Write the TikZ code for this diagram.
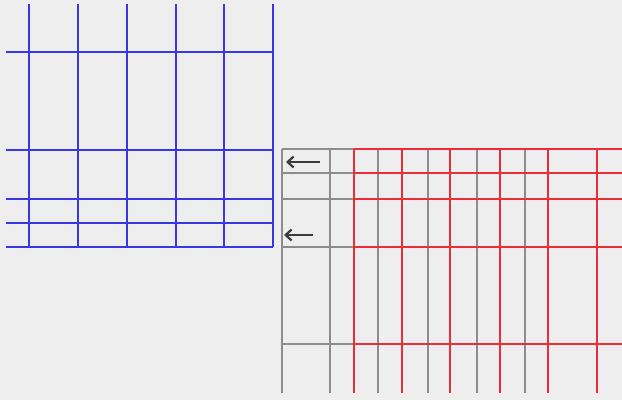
\documentclass[tikz,border=0pt]{standalone}
\usetikzlibrary{arrows.meta}
\definecolor{bgpanel}{RGB}{238,238,238}
\definecolor{gridblue}{RGB}{55,55,230}
\definecolor{gridred}{RGB}{235,45,55}
\definecolor{gridgray}{RGB}{140,140,140}
\definecolor{arrowgray}{RGB}{60,60,60}

\begin{document}
\begin{tikzpicture}[
    x=1pt, y=-1pt,
    blueline/.style={draw=gridblue, line width=1.9pt},
    redline/.style={draw=gridred, line width=2.1pt},
    grayline/.style={draw=gridgray, line width=1.6pt},
    shiftarrow/.style={-{Straight Barb[length=6pt, width=11pt]}, draw=arrowgray, line width=2.2pt}
]

% ===== Background =====
\fill[bgpanel] (0, 0) rectangle (622, 400);
\useasboundingbox (0, 0) rectangle (622, 400);

% ===== Blue grid (original) =====
\foreach \gx in {29, 78, 127, 176, 224, 273}
    \draw[blueline] (\gx, 4) -- (\gx, 247);
\foreach \gy in {52, 150, 199, 223, 247}
    \draw[blueline] (6, \gy) -- (273, \gy);

% ===== Gray grid (rotated copy) =====
\foreach \gx in {282, 330, 378, 428, 477, 525}
    \draw[grayline] (\gx, 149) -- (\gx, 393);
\foreach \gy in {149, 173, 199, 247, 344}
    \draw[grayline] (282, \gy) -- (548, \gy);

% ===== Red grid (shifted copy) =====
\foreach \gx in {354, 402, 450, 500, 548, 597}
    \draw[redline] (\gx, 149) -- (\gx, 393);
\foreach \gy in {149, 173, 199, 247, 344}
    \draw[redline] (354, \gy) -- (622, \gy);

% ===== Shift arrows =====
\coordinate (arr_top_from) at (320, 162);
\coordinate (arr_top_to) at (286, 162);
\coordinate (arr_low_from) at (313, 235);
\coordinate (arr_low_to) at (284, 235);
\draw[shiftarrow] (arr_top_from) -- (arr_top_to);
\draw[shiftarrow] (arr_low_from) -- (arr_low_to);

\end{tikzpicture}
\end{document}
